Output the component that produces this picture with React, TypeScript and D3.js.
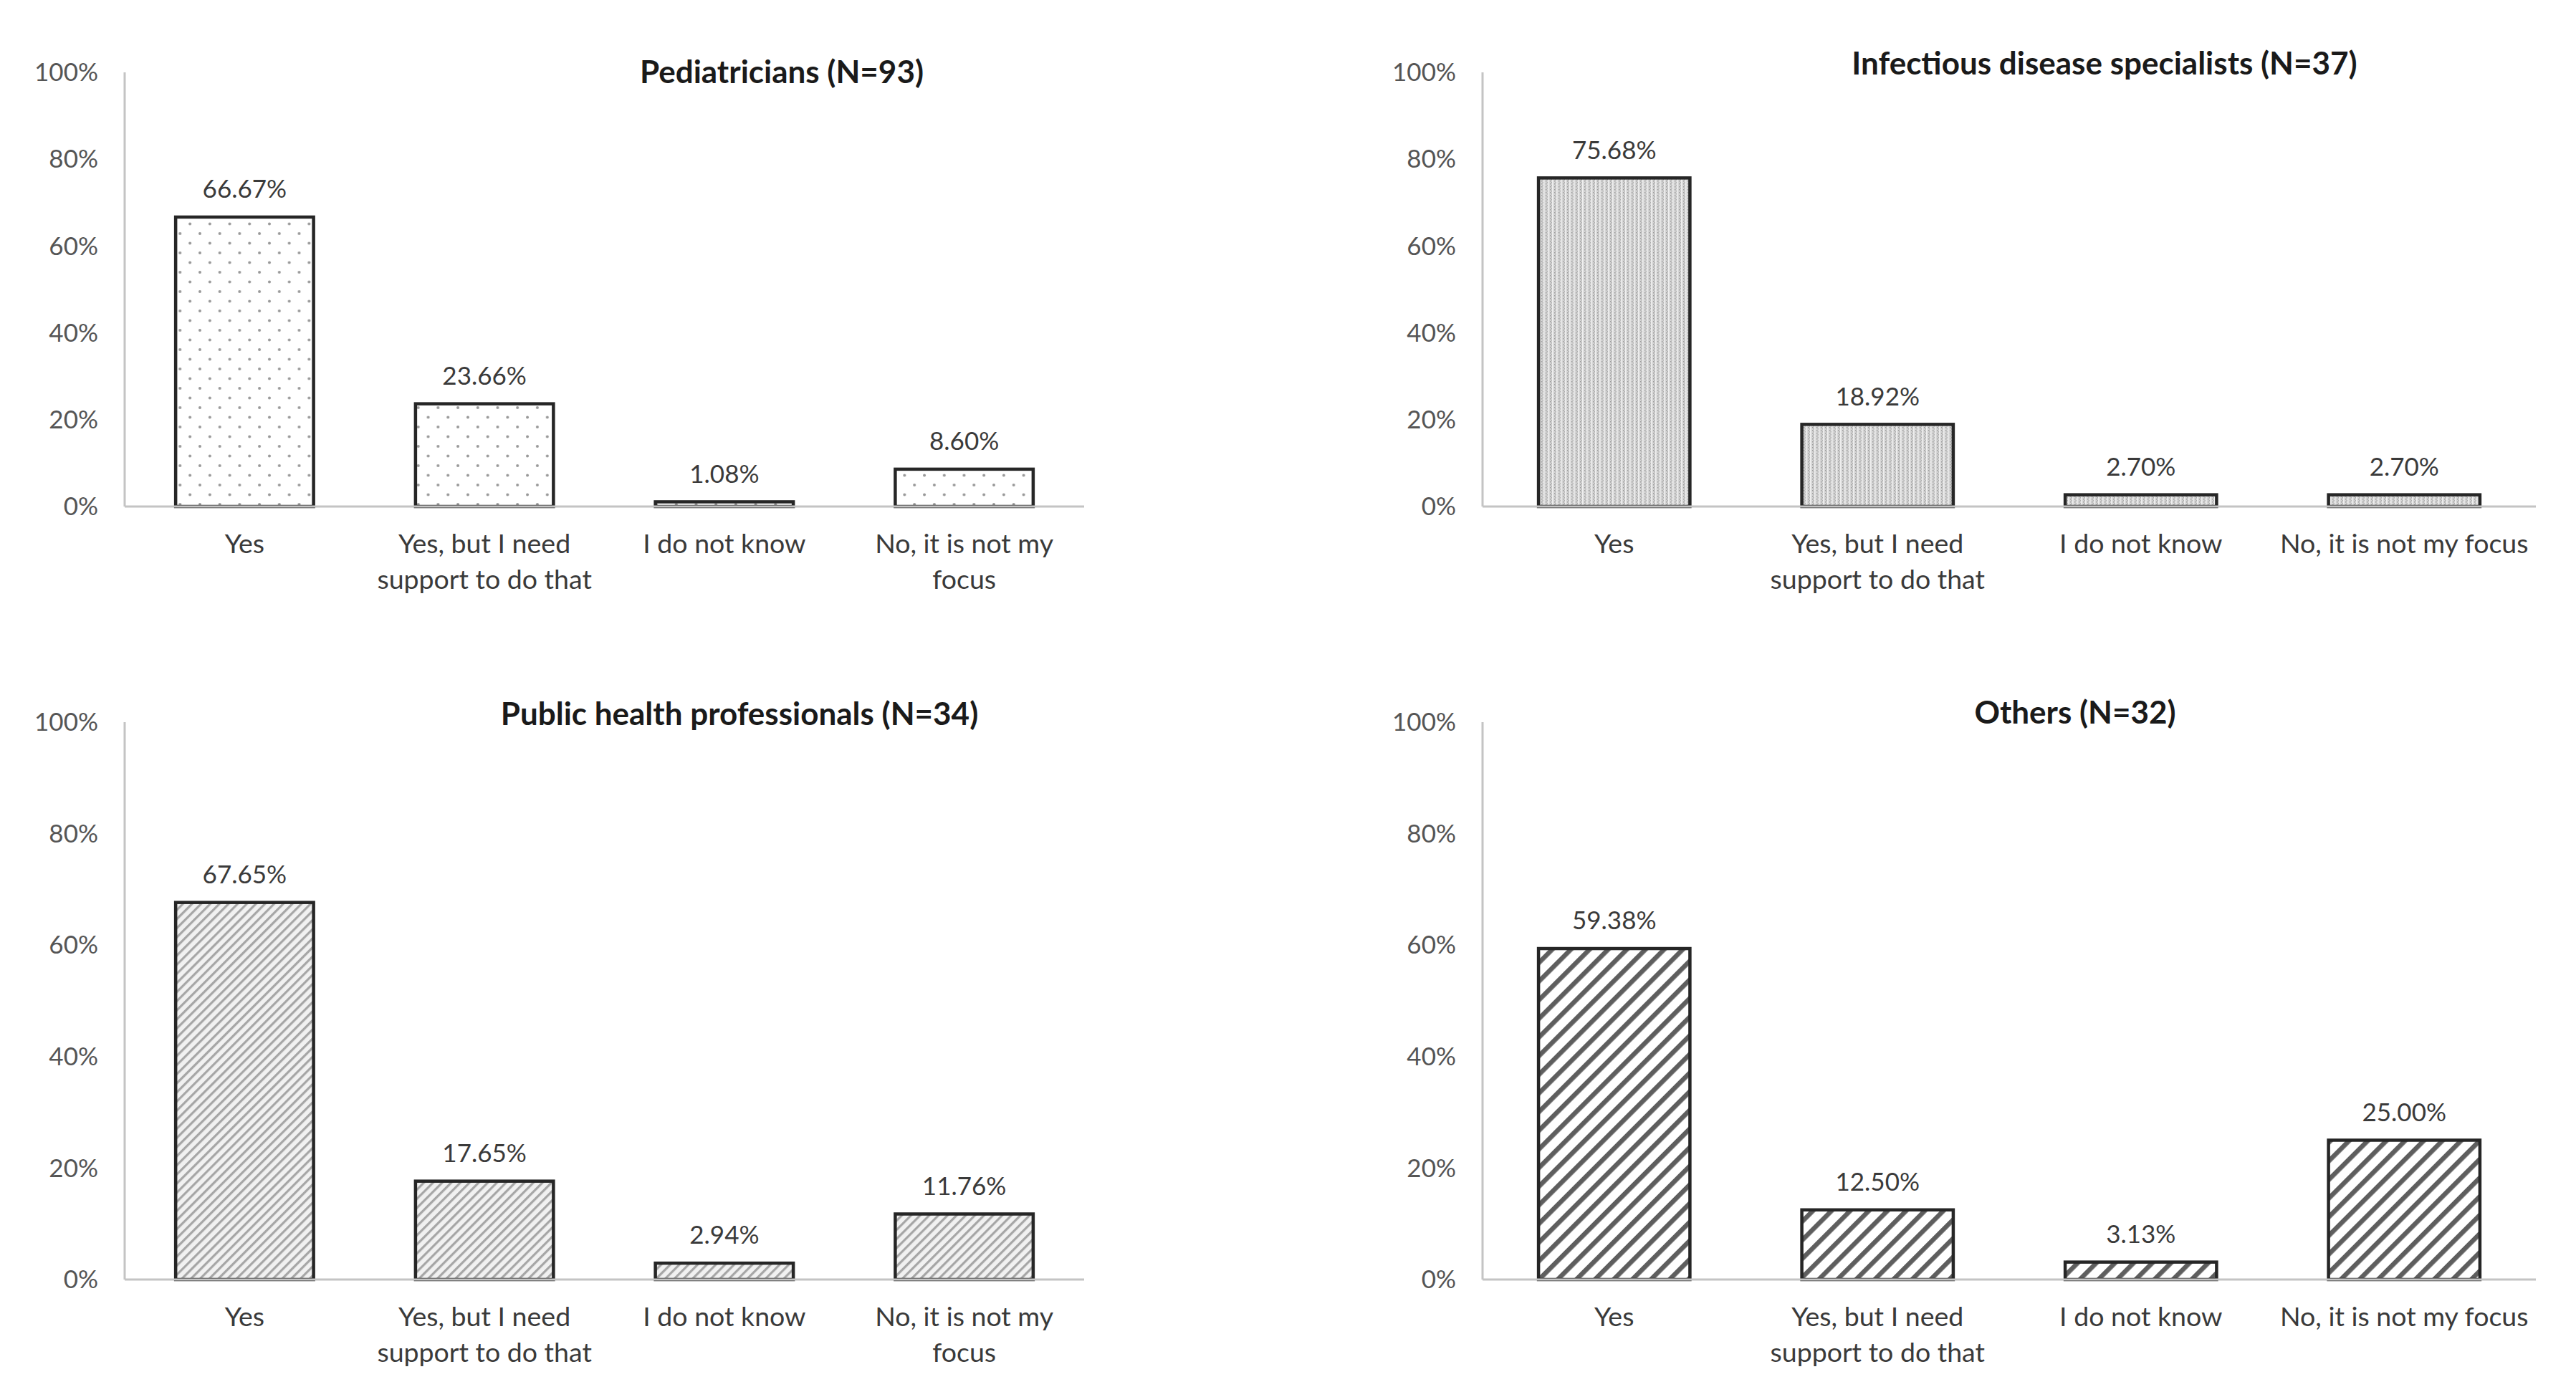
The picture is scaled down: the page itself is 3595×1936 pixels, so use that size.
import React from "react";
import * as d3 from "d3";

// ---------- data ----------
const categories = ["Yes", "Yes, but I need support to do that", "I do not know", "No, it is not my focus"];
const pediatricians = [66.67, 23.66, 1.08, 8.6];
const infectious = [75.68, 18.92, 2.7, 2.7];
const publicHealth = [67.65, 17.65, 2.94, 11.76];
const others = [59.38, 12.5, 3.13, 25.0];
const titles = [
  "Pediatricians (N=93)",
  "Infectious disease specialists (N=37)",
  "Public health professionals (N=34)",
  "Others (N=32)",
];
const yTicks = [0, 20, 40, 60, 80, 100];

// label wrapping (left panels wrap the last label, right panels do not)
const labelsWrapped = [["Yes"], ["Yes, but I need", "support to do that"], ["I do not know"], ["No, it is not my", "focus"]];
const labelsWide = [["Yes"], ["Yes, but I need", "support to do that"], ["I do not know"], ["No, it is not my focus"]];

// ---------- layout ----------
const W = 3595;
const H = 1936;
const FONT = "Lato, 'Open Sans', sans-serif";

type Panel = {
  values: number[];
  title: string;
  x0: number;
  x1: number;
  yTop: number;
  yBase: number;
  titleX: number;
  titleY: number;
  fill: string;
  labels: string[][];
};

const panels: Panel[] = [
  { values: pediatricians, title: titles[0], x0: 174, x1: 1513, yTop: 101, yBase: 707, titleX: 1091, titleY: 101, fill: "url(#patDots)", labels: labelsWrapped },
  { values: infectious, title: titles[1], x0: 2069, x1: 3539, yTop: 101, yBase: 707, titleX: 2937, titleY: 89, fill: "url(#patStipple)", labels: labelsWide },
  { values: publicHealth, title: titles[2], x0: 174, x1: 1513, yTop: 1008, yBase: 1786, titleX: 1032, titleY: 997, fill: "url(#patFineDiag)", labels: labelsWrapped },
  { values: others, title: titles[3], x0: 2069, x1: 3539, yTop: 1008, yBase: 1786, titleX: 2896, titleY: 995, fill: "url(#patWideDiag)", labels: labelsWide },
];

function ChartPanel({ p }: { p: Panel }) {
  const x = d3
    .scaleBand<string>()
    .domain(categories)
    .range([p.x0, p.x1])
    .paddingInner(0.425)
    .paddingOuter(0.2125);
  const y = d3.scaleLinear().domain([0, 100]).range([p.yBase, p.yTop]);
  const fmt = (v: number) => v.toFixed(2) + "%";
  return (
    <g>
      {/* y axis line */}
      <line x1={p.x0} x2={p.x0} y1={y(100)} y2={y(0)} stroke="#c4c4c4" strokeWidth={3} />
      {/* y tick labels */}
      {yTicks.map((t) => (
        <text
          key={t}
          x={p.x0 - 37}
          y={y(t)}
          dy="0.35em"
          textAnchor="end"
          fontFamily={FONT}
          fontSize={35}
          fill="#555555"
        >
          {t + "%"}
        </text>
      ))}
      {/* bars */}
      {p.values.map((v, i) => {
        const c = categories[i];
        const bx = x(c)!;
        const bw = x.bandwidth();
        return (
          <g key={c}>
            <rect x={bx} y={y(v)} width={bw} height={y(0) - y(v)} fill={p.fill} stroke="#262626" strokeWidth={4.5} />
            <text
              x={bx + bw / 2}
              y={y(v) - 39}
              dy="0.35em"
              textAnchor="middle"
              fontFamily={FONT}
              fontSize={35}
              fill="#3a3a3a"
            >
              {fmt(v)}
            </text>
          </g>
        );
      })}
      {/* baseline */}
      <line x1={p.x0} x2={p.x1} y1={y(0)} y2={y(0)} stroke="#c4c4c4" strokeWidth={3} />
      {/* category labels */}
      {categories.map((c, i) => (
        <text
          key={c}
          x={x(c)! + x.bandwidth() / 2}
          textAnchor="middle"
          fontFamily={FONT}
          fontSize={37.5}
          fill="#3a3a3a"
        >
          {p.labels[i].map((ln, j) => (
            <tspan key={j} x={x(c)! + x.bandwidth() / 2} y={y(0) + 52 + j * 50} dy="0.35em">
              {ln}
            </tspan>
          ))}
        </text>
      ))}
      {/* title */}
      <text
        x={p.titleX}
        y={p.titleY}
        dy="0.35em"
        textAnchor="middle"
        fontFamily={FONT}
        fontWeight="bold"
        fontSize={44}
        fill="#1a1a1a"
      >
        {p.title}
      </text>
    </g>
  );
}

export default function App() {
  return (
    <svg
      width={W}
      height={H}
      viewBox={`0 0 ${W} ${H}`}
      style={{ position: "absolute", left: 0, top: 0, background: "#ffffff" }}
    >
      <defs>
        <pattern id="patDots" patternUnits="userSpaceOnUse" width={27.7} height={27}>
          <rect width={27.7} height={27} fill="#ffffff" />
          <circle cx={2} cy={2} r={2} fill="#999999" />
          <circle cx={15.85} cy={15.5} r={2} fill="#999999" />
        </pattern>
        <pattern id="patStipple" patternUnits="userSpaceOnUse" width={6} height={4}>
          <rect width={6} height={4} fill="#d6d6d6" />
          <rect x={0} y={0} width={1.5} height={4} fill="#efefef" />
          <rect x={3} y={0} width={1.5} height={1.5} fill="#9a9a9a" />
          <rect x={4.5} y={2} width={1.5} height={1.5} fill="#acacac" />
        </pattern>
        <pattern id="patFineDiag" patternUnits="userSpaceOnUse" width={9} height={9} patternTransform="rotate(45)">
          <rect width={9} height={9} fill="#f1f1f1" />
          <rect x={0} y={0} width={3.2} height={9} fill="#a6a6a6" />
        </pattern>
        <pattern id="patWideDiag" patternUnits="userSpaceOnUse" width={18.4} height={18.4} patternTransform="rotate(45)">
          <rect width={18.4} height={18.4} fill="#ffffff" />
          <rect x={0} y={0} width={6.5} height={18.4} fill="#5e5e5e" />
        </pattern>
      </defs>
      <rect width={W} height={H} fill="#ffffff" />
      {panels.map((p, i) => (
        <ChartPanel key={i} p={p} />
      ))}
    </svg>
  );
}
